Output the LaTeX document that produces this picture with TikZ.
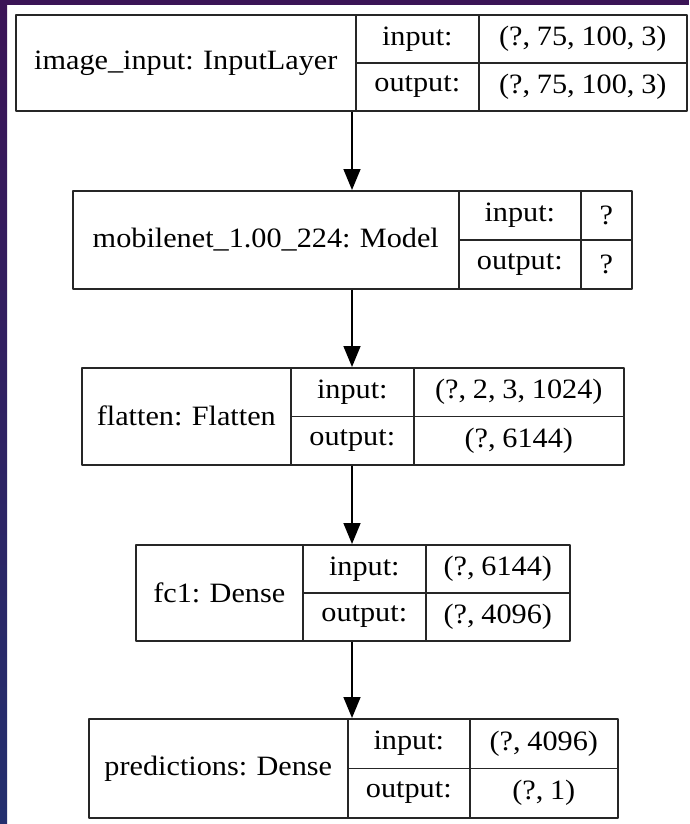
\documentclass[tikz,border=0pt]{standalone}
\usepackage{fontspec}
\setmainfont[FakeStretch=1.08,WordSpace=0.9]{Liberation Serif}
\usepackage{xcolor}
\usetikzlibrary{arrows.meta}
\definecolor{edge}{HTML}{262626}
\definecolor{slidetop}{HTML}{3B1456}
\definecolor{slidebot}{HTML}{232F6E}
\tikzset{
  every picture/.style={font=\fontsize{28}{32}\selectfont, line join=round, >={Triangle[length=21pt,width=17pt]}},
  cell/.style={draw=edge, line width=1.6pt, inner sep=0pt, anchor=north west},
  flow/.style={draw=black, line width=1.6pt, ->},
}

\begin{document}
\begin{tikzpicture}[x=1pt,y=-1pt]
\useasboundingbox (0,0) rectangle (689,824);
\fill[white] (0,0) rectangle (689,824);
\shade[top color=slidetop, bottom color=slidebot] (0,0) rectangle (7,824);
\fill[slidetop] (0,0) rectangle (689,5);
\coordinate (axis) at (352,0);

\node[cell, minimum width=340pt, minimum height=96pt] (img) at (15,14) {image\_input: InputLayer};
\node[cell, minimum width=123pt, minimum height=48pt] (imgin) at (355,14) {input:};
\node[cell, minimum width=123pt, minimum height=48pt] (imgout) at (355,62) {output:};
\node[cell, minimum width=208pt, minimum height=48pt] (imginval) at (478,14) {(?, 75, 100, 3)};
\node[cell, minimum width=208pt, minimum height=48pt] (imgoutval) at (478,62) {(?, 75, 100, 3)};

\node[cell, minimum width=386pt, minimum height=98pt] (mob) at (72,190) {mobilenet\_1.00\_224: Model};
\node[cell, minimum width=122pt, minimum height=49pt] (mobin) at (458,190) {input:};
\node[cell, minimum width=122pt, minimum height=49pt] (mobout) at (458,239) {output:};
\node[cell, minimum width=51pt, minimum height=49pt] (mobinval) at (580,190) {?};
\node[cell, minimum width=51pt, minimum height=49pt] (moboutval) at (580,239) {?};

\node[cell, minimum width=209pt, minimum height=97pt] (flat) at (81,367) {flatten: Flatten};
\node[cell, minimum width=123pt, minimum height=48.5pt] (flatin) at (290,367) {input:};
\node[cell, minimum width=123pt, minimum height=48.5pt] (flatout) at (290,415.5) {output:};
\node[cell, minimum width=210pt, minimum height=48.5pt] (flatinval) at (413,367) {(?, 2, 3, 1024)};
\node[cell, minimum width=210pt, minimum height=48.5pt] (flatoutval) at (413,415.5) {(?, 6144)};

\node[cell, minimum width=167pt, minimum height=96pt] (fc) at (135,544) {fc1: Dense};
\node[cell, minimum width=123pt, minimum height=48pt] (fcin) at (302,544) {input:};
\node[cell, minimum width=123pt, minimum height=48pt] (fcout) at (302,592) {output:};
\node[cell, minimum width=144pt, minimum height=48pt] (fcinval) at (425,544) {(?, 6144)};
\node[cell, minimum width=144pt, minimum height=48pt] (fcoutval) at (425,592) {(?, 4096)};

\node[cell, minimum width=259pt, minimum height=99pt] (pred) at (88,718) {predictions: Dense};
\node[cell, minimum width=122pt, minimum height=49.5pt] (predin) at (347,718) {input:};
\node[cell, minimum width=122pt, minimum height=49.5pt] (predout) at (347,767.5) {output:};
\node[cell, minimum width=148pt, minimum height=49.5pt] (predinval) at (469,718) {(?, 4096)};
\node[cell, minimum width=148pt, minimum height=49.5pt] (predoutval) at (469,767.5) {(?, 1)};

\draw[flow] (img.south -| axis) -- (mob.north -| axis);
\draw[flow] (mob.south -| axis) -- (flat.north -| axis);
\draw[flow] (flat.south -| axis) -- (fc.north -| axis);
\draw[flow] (fc.south -| axis) -- (pred.north -| axis);
\end{tikzpicture}
\end{document}
